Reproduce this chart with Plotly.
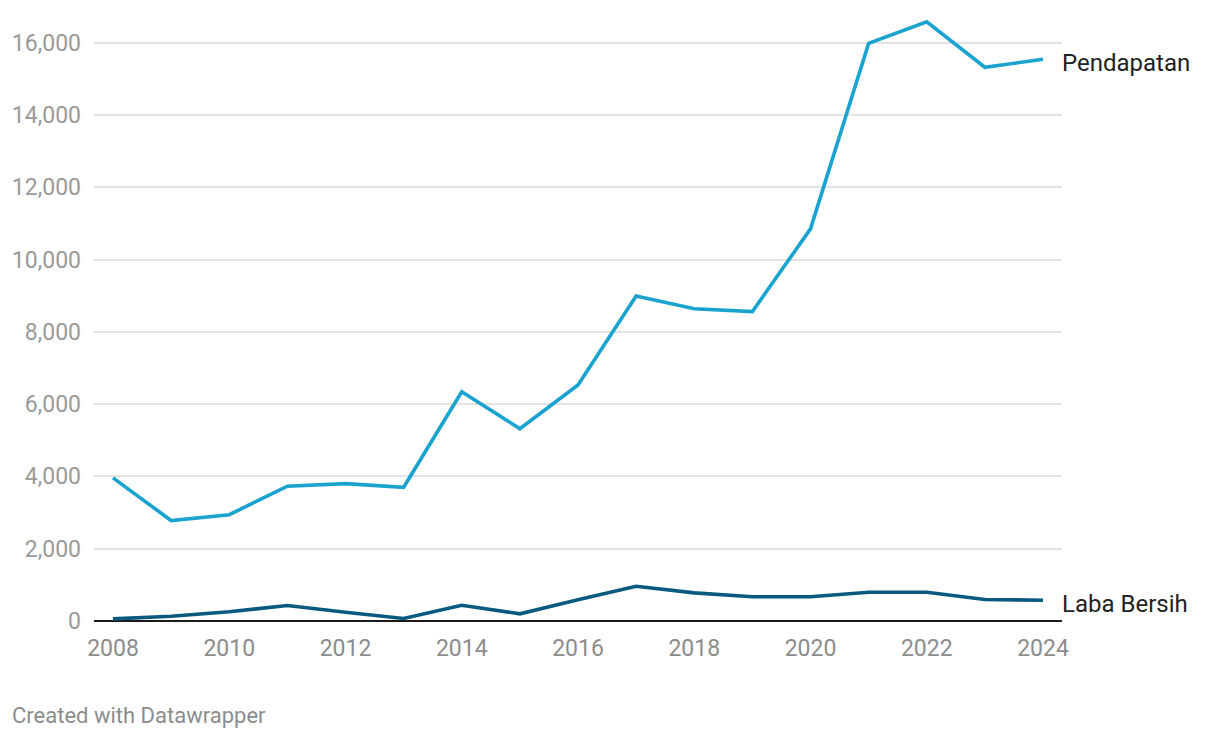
import plotly.graph_objects as go

years = list(range(2008, 2025))
pendapatan = [3960, 2780, 2940, 3730, 3800, 3700, 6340, 5320, 6530, 8990, 8640, 8560, 10850, 15980, 16580, 15320, 15540]
laba_bersih = [60, 133, 254, 428, 243, 69, 437, 199, 590, 962, 779, 669, 669, 796, 796, 594, 575]
y_ticks = [0, 2000, 4000, 6000, 8000, 10000, 12000, 14000, 16000]
x_ticks = [2008, 2010, 2012, 2014, 2016, 2018, 2020, 2022, 2024]

C_PEND = "#1ba3d0"
C_LABA = "#0a5a80"
FONT = "Roboto"

fig = go.Figure()
fig.add_trace(go.Scatter(x=years, y=pendapatan, mode="lines", name="Pendapatan",
                         line=dict(color=C_PEND, width=3.6), cliponaxis=False))
fig.add_trace(go.Scatter(x=years, y=laba_bersih, mode="lines", name="Laba Bersih",
                         line=dict(color=C_LABA, width=3.6), cliponaxis=False))

for name, vals in [("Pendapatan", pendapatan), ("Laba Bersih", laba_bersih)]:
    fig.add_annotation(x=years[-1], y=vals[-1], text=name, showarrow=False,
                       xanchor="left", yanchor="middle", xshift=17, yshift=-4,
                       font=dict(family=FONT, size=24, color="#222222"))

fig.add_annotation(xref="paper", yref="paper", x=-0.0868, y=-0.154, text="Created with Datawrapper",
                   showarrow=False, xanchor="left", yanchor="middle",
                   font=dict(family=FONT, size=22, color="#8c8c8c"))

fig.update_layout(
    width=1204, height=722,
    margin=dict(l=86, r=150, t=2, b=109),
    paper_bgcolor="white", plot_bgcolor="white",
    showlegend=False,
    font=dict(family=FONT),
)
fig.update_xaxes(range=[2007.673, 2024.327], tickvals=x_ticks, showgrid=False, zeroline=False,
                 showline=False, ticks="", ticklabelstandoff=11,
                 tickfont=dict(family=FONT, size=23, color="#8c8c8c"))
fig.update_yaxes(range=[0, 16905], tickvals=y_ticks, tickformat=",d", showgrid=True,
                 gridcolor="#e3e3e3", gridwidth=1.5, zeroline=True, zerolinecolor="#1a1a1a",
                 zerolinewidth=2, showline=False, ticks="", ticklabelstandoff=12,
                 tickfont=dict(family=FONT, size=23, color="#9a9a9a"))

fig.write_html("out.html")
